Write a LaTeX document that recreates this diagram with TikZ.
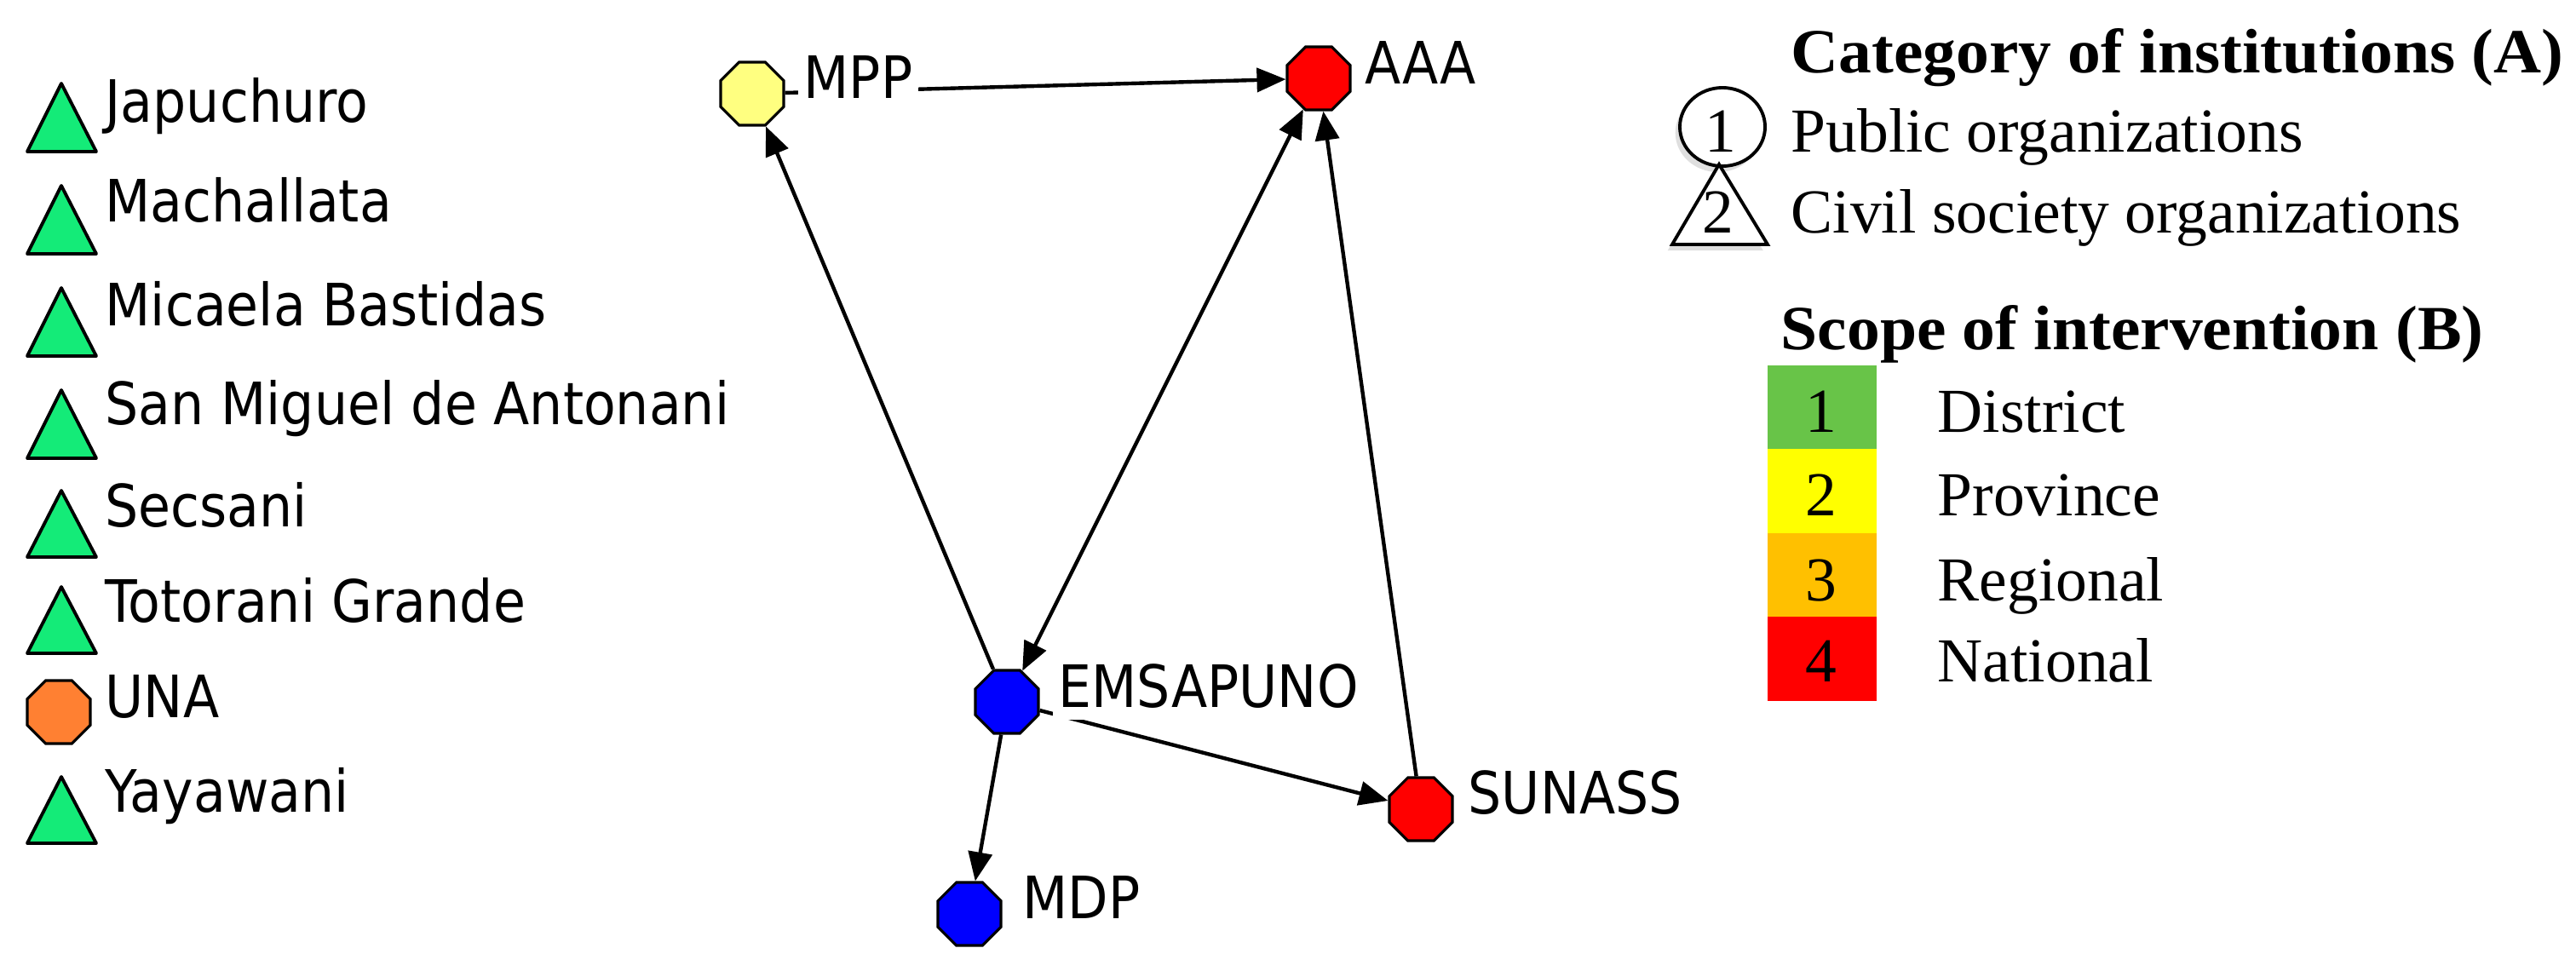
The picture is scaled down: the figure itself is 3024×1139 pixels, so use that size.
\documentclass[tikz,border=0pt]{standalone}
\usepackage{fontspec}
\usetikzlibrary{shapes.geometric,arrows.meta,shadows}
\newfontfamily\lblfont[FakeStretch=0.9]{DejaVu Sans}
\newfontfamily\legfont{Liberation Serif}
\newfontfamily\legboldfont[FakeStretch=1.05]{Liberation Serif}
\definecolor{trigreen}{RGB}{20,235,120}
\definecolor{mppyellow}{RGB}{255,255,128}
\definecolor{unaorange}{RGB}{255,128,50}
\definecolor{nodeblue}{RGB}{0,0,255}
\definecolor{nodered}{RGB}{255,0,0}
\definecolor{scgreen}{RGB}{104,196,72}
\definecolor{scyellow}{RGB}{255,255,0}
\definecolor{scorange}{RGB}{255,192,0}
\definecolor{scred}{RGB}{255,0,0}
\pgfdeclarelayer{bottom}
\pgfdeclarelayer{edges}
\pgfsetlayers{bottom,edges,main}
\begin{document}
\begin{tikzpicture}[x=0.01cm,y=-0.01cm,
  >={Triangle[length=0.34cm,width=0.28cm]},
  oct/.style={regular polygon, regular polygon sides=8, minimum size=0.80cm, inner sep=0pt, draw=black, line width=0.9pt},
  tri/.style={draw=black, line width=1.1pt, fill=trigreen, line join=round},
  lbl/.style={font=\lblfont\fontsize{19.5pt}{20pt}\selectfont, fill=white, inner xsep=0.07cm, inner ysep=0.06cm, text height=0.52cm, text depth=0.09cm, anchor=base west},
  edge/.style={line width=1.25pt, ->},
  legtxt/.style={font=\legfont\fontsize{20.9pt}{22pt}\selectfont, inner sep=0pt, anchor=base west},
  leghead/.style={font=\legboldfont\bfseries\fontsize{21pt}{22pt}\selectfont, inner sep=0pt, anchor=base west},
  legnum/.style={font=\legfont\fontsize{20.9pt}{22pt}\selectfont, inner sep=0pt, anchor=base},
  scopebox/.style={draw=none, minimum width=1.28cm, minimum height=0.985cm, inner sep=0pt, anchor=north west},
  legshape/.style={draw=black, line width=1.1pt, fill=white, drop shadow={shadow xshift=-1.5pt, shadow yshift=-2pt, opacity=0.25}}
]
\useasboundingbox (0,0) rectangle (3024,1139);
\begin{pgfonlayer}{bottom}
\fill[white] (0,0) rectangle (3024,1139);
\end{pgfonlayer}

% ---- isolates (left column) ----
\draw[tri] (32,178) -- (72,98) -- (113,178) -- cycle;
\coordinate (japuchuro) at (72,138);
\node[lbl] (japuchurol) at (116,143) {Japuchuro};
\draw[tri] (32,298) -- (72,218) -- (113,298) -- cycle;
\coordinate (machallata) at (72,258);
\node[lbl] (machallatal) at (116,260) {Machallata};
\draw[tri] (32,418) -- (72,338) -- (113,418) -- cycle;
\coordinate (micaela) at (72,378);
\node[lbl] (micaelal) at (116,382) {Micaela Bastidas};
\draw[tri] (32,538) -- (72,458) -- (113,538) -- cycle;
\coordinate (sanmiguel) at (72,498);
\node[lbl] (sanmiguell) at (116,498) {San Miguel de Antonani};
\draw[tri] (32,654) -- (72,576) -- (113,654) -- cycle;
\coordinate (secsani) at (72,615);
\node[lbl] (secsanil) at (116,618) {Secsani};
\draw[tri] (32,767) -- (72,689) -- (113,767) -- cycle;
\coordinate (totorani) at (72,728);
\node[lbl] (totoranil) at (116,730) {Totorani Grande};
\node[oct, fill=unaorange] (UNA) at (69,836) {};
\node[lbl] (UNAl) at (116,842) {UNA};
\draw[tri] (32,990) -- (72,912) -- (113,990) -- cycle;
\coordinate (yayawani) at (72,951);
\node[lbl] (yayawanil) at (116,953) {Yayawani};

% ---- network ----
\node[oct, fill=mppyellow] (MPP) at (883,110) {};
\node[oct, fill=nodered] (AAA) at (1548,92) {};
\node[oct, fill=nodeblue] (EMS) at (1182,824) {};
\node[oct, fill=nodered] (SUN) at (1668,950) {};
\node[oct, fill=nodeblue] (MDP) at (1138,1073) {};

\begin{pgfonlayer}{edges}
\draw[edge] (MPP) -- (AAA);
\draw[edge] (EMS) -- (MPP);
\draw[edge, <->] (EMS) -- (AAA);
\draw[edge] (EMS) -- (SUN);
\draw[edge] (EMS) -- (MDP);
\draw[edge] (SUN) -- (AAA);
\end{pgfonlayer}

\node[lbl] (MPPl) at (936,115) {MPP};
\node[lbl] (AAAl) at (1595,98) {AAA};
\node[lbl] (EMSl) at (1235,830) {EMSAPUNO};
\node[lbl] (SUNl) at (1716,955) {SUNASS};
\node[lbl] (MDPl) at (1193,1078) {MDP};

% ---- legend A ----
\node[leghead] (headA) at (2102,85) {Category of institutions (A)};
\node[ellipse, legshape, minimum width=1.0cm, minimum height=0.92cm, inner sep=0pt] (legcirc) at (2022,149) {};
\node[legnum] (legone) at (2020,178) {1};
\node[legtxt] (legpub) at (2102,178) {Public organizations};
\path[legshape, line join=miter] (1963,287) -- (2018,193) -- (2075,287) -- cycle;
\coordinate (legtri) at (2018,255);
\node[legnum] (legtwo) at (2017,273) {2};
\node[legtxt] (legciv) at (2102,273) {Civil society organizations};

% ---- legend B ----
\node[leghead] (headB) at (2090,410) {Scope of intervention (B)};
\node[scopebox, fill=scgreen] (box1) at (2074,428) {};
\node[scopebox, fill=scyellow] (box2) at (2074,526.5) {};
\node[scopebox, fill=scorange] (box3) at (2074,625) {};
\node[scopebox, fill=scred] (box4) at (2074,723.5) {};
\node[legnum] (num1) at (2138,507) {1};
\node[legnum] (num2) at (2138,605) {2};
\node[legnum] (num3) at (2138,705) {3};
\node[legnum] (num4) at (2138,800) {4};
\node[legtxt] (district) at (2274,507) {District};
\node[legtxt] (province) at (2274,605) {Province};
\node[legtxt] (regional) at (2274,705) {Regional};
\node[legtxt] (national) at (2274,800) {National};
\end{tikzpicture}
\end{document}
